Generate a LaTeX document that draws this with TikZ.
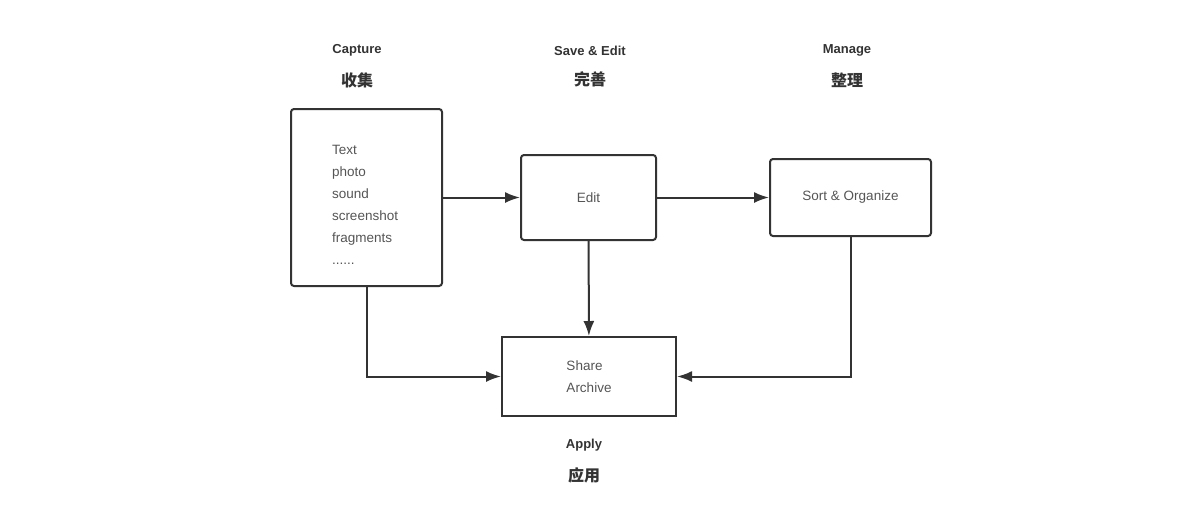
\documentclass[tikz,border=0pt]{standalone}
\usepackage{fontspec}
\setmainfont{Liberation Sans}
\newfontfamily\cjk{Noto Sans CJK SC}
\usepackage{tikz}
\usepackage{xcolor}
\usetikzlibrary{positioning,calc}
\usetikzlibrary{arrows.meta}
\definecolor{ink}{HTML}{333333}
\definecolor{soft}{HTML}{555555}
\tikzset{
	box/.style={draw=ink,line width=2pt,rectangle,rounded corners=3pt,text=soft,font=\fontsize{13.5}{22}\selectfont,anchor=center},
	plainbox/.style={box,rounded corners=0pt},
	heading/.style={text=ink,font=\bfseries\fontsize{13}{15}\selectfont,inner sep=0pt},
	cjkhead/.style={text=ink,font=\cjk\bfseries\fontsize{16}{18}\selectfont,inner sep=0pt},
	line/.style={draw=ink,line width=2pt,-{Latex[length=15pt,width=11pt]}},
}
\begin{document}
\begin{tikzpicture}[x=1pt,y=-1pt,node distance=16pt]
	\useasboundingbox (0,0) rectangle (1200,520);
	
	% Boxes
	\node[box,minimum width=151pt,minimum height=177pt,inner xsep=41pt,text width=69pt,align=left] (capture) at (366.5,197.5) {\rule{0pt}{23pt}Text\\photo\\sound\\screenshot\\fragments\\......};
	\node[box,minimum width=135pt,minimum height=85pt] (edit) at (588.5,197.5) {Edit};
	\node[box,minimum width=161pt,minimum height=77pt] (sort) at (850.5,197.5) {Sort \& Organize};
	\node[plainbox,minimum width=174pt,minimum height=79pt,align=left] (share) at (589,376.5) {Share\\Archive};
	
	% Headings
	\node[heading] (capturehd) at (357,50.5) {Capture};
	\node[cjkhead,below=of capturehd] (capturecn) {收集};
	\node[heading] (edithd) at (590,50.5) {Save \& Edit};
	\node[cjkhead,below=of edithd] (editcn) {完善};
	\node[heading] (managehd) at (847,50.5) {Manage};
	\node[cjkhead,below=of managehd] (managecn) {整理};
	\node[heading] (applyhd) at (584,445) {Apply};
	\node[cjkhead,below=of applyhd] (applycn) {应用};
	
	% Draw connections
	\draw[line] (capture) -- (edit);
	\draw[line] (edit) -- (sort);
	\draw[line] (edit) -- (share);
	\draw[line] (capture.south) |- (share.west);
	\draw[line] (sort.south) |- (share.east);
	
\end{tikzpicture}
\end{document}
